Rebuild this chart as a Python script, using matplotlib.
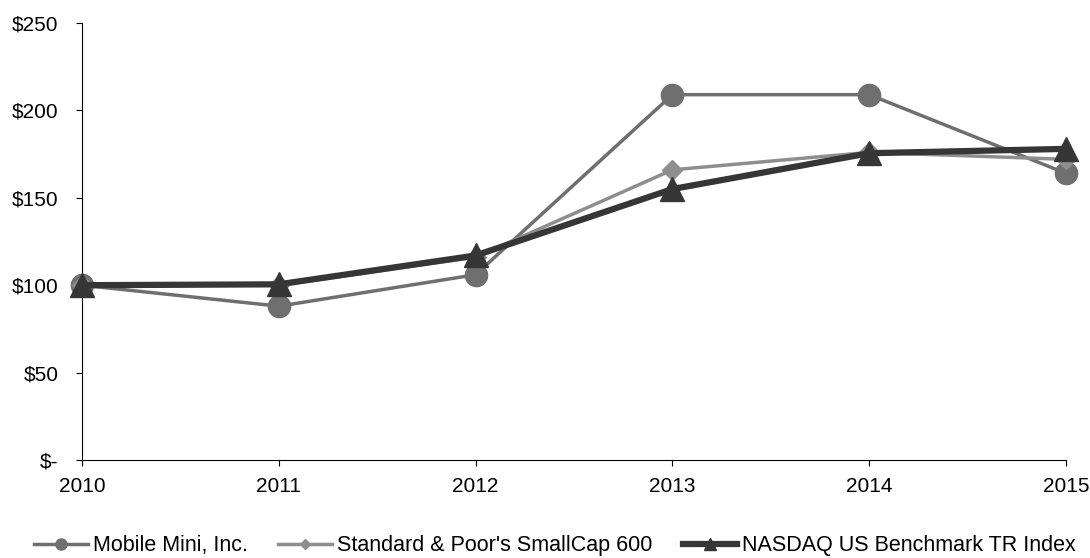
import matplotlib.pyplot as plt
from matplotlib.ticker import FuncFormatter

plt.rcParams['font.family'] = ['Liberation Sans', 'DejaVu Sans']

years = [2010, 2011, 2012, 2013, 2014, 2015]
mobile_mini = [100, 88, 106, 209, 209, 164]
sp_smallcap = [100, 100, 116, 166, 176, 172]
nasdaq_us = [100, 100.5, 117, 155, 175.5, 178]

fig = plt.figure(figsize=(10.9, 5.58), dpi=100)
ax = fig.add_axes([82 / 1090, 1 - 460 / 558, (1066 - 82) / 1090, (460 - 23) / 558])

ax.plot(years, mobile_mini, color='#6f6f6f', lw=2.5, marker='o', ms=16,
        label='Mobile Mini, Inc.', zorder=3, clip_on=False)
ax.plot(years, sp_smallcap, color='#8e8e8e', lw=2.5, marker='D', ms=10,
        label="Standard & Poor's SmallCap 600", zorder=4, clip_on=False)
ax.plot(years, nasdaq_us, color='#363636', lw=4.5, marker='^', ms=17,
        label='NASDAQ US Benchmark TR Index', zorder=5, clip_on=False)

ax.set_xlim(2010, 2015)
ax.set_ylim(0, 250)
ax.set_xticks(years)
ax.set_yticks(range(0, 251, 50))
ax.yaxis.set_major_formatter(FuncFormatter(lambda v, p: '$-' if v == 0 else f'${v:.0f}'))
ax.tick_params(labelsize=15, length=4, color='#000000')
ax.tick_params(axis='y', pad=13)
ax.tick_params(axis='x', pad=8)
for s in ['top', 'right']:
    ax.spines[s].set_visible(False)

leg = fig.legend(loc='center', bbox_to_anchor=(0.509, 1 - 546 / 558), ncol=3,
                 frameon=False, fontsize=15.5, handlelength=2.5, columnspacing=1.4,
                 handletextpad=0.25, markerscale=0.5, borderpad=0.1)

fig.savefig('out.png', dpi=100)
